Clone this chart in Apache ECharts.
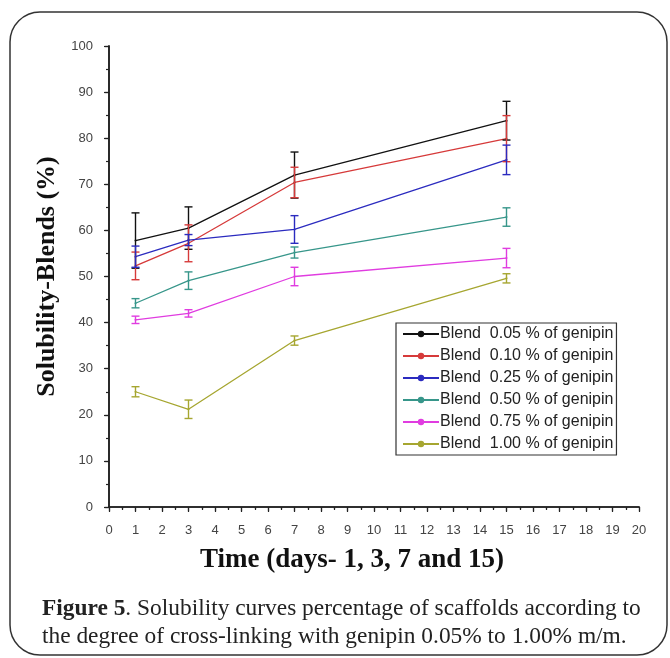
<!DOCTYPE html>
<html>
<head>
<meta charset="utf-8">
<script src="https://cdn.jsdelivr.net/npm/echarts@6/dist/echarts.min.js"></script>
<style>
  html, body { margin: 0; padding: 0; background: #fff; }
  #chart { width: 670px; height: 658px; }
</style>
</head>
<body>
<div id="chart"></div>
<script>
document.addEventListener("DOMContentLoaded", function () {
    let chart = echarts.init(document.getElementById("chart"));

    // time points (days)
    let days = [1, 3, 7, 15];

    let names = [
        "Blend  0.05 % of genipin",
        "Blend  0.10 % of genipin",
        "Blend  0.25 % of genipin",
        "Blend  0.50 % of genipin",
        "Blend  0.75 % of genipin",
        "Blend  1.00 % of genipin"
    ];
    let colors = ["#111111", "#d63a3a", "#2b2bbf", "#37968a", "#e03ce0", "#a6a630"];

    // solubility (%) per blend
    let blend005 = [57.8, 60.5, 72.0, 83.8];
    let blend010 = [52.3, 57.2, 70.4, 79.9];
    let blend025 = [54.3, 57.9, 60.2, 75.3];
    let blend050 = [44.2, 49.1, 55.2, 62.9];
    let blend075 = [40.6, 42.0, 50.0, 54.0];
    let blend100 = [25.0, 21.2, 36.1, 49.6];

    // standard deviations (error bars)
    let err005 = [6.0, 4.6, 5.0, 4.2];
    let err010 = [3.0, 4.0, 3.3, 5.0];
    let err025 = [2.3, 1.2, 3.0, 3.2];
    let err050 = [1.0, 1.9, 1.2, 2.0];
    let err075 = [0.8, 0.8, 2.0, 2.1];
    let err100 = [1.1, 2.0, 1.0, 1.0];

    let values = [blend005, blend010, blend025, blend050, blend075, blend100];
    let errors = [err005, err010, err025, err050, err075, err100];

    let xTicks = [0, 20, 1];
    let yTicks = [0, 100, 10];

    let series = [];
    values.forEach(function (vals, i) {
        series.push({
            name: names[i],
            type: "line",
            data: days.map((d, k) => [d, vals[k]]),
            symbol: "circle",
            symbolSize: 2,
            lineStyle: { color: colors[i], width: 1.3 },
            itemStyle: { color: colors[i] },
            z: 3
        });
    });
    values.forEach(function (vals, i) {
        series.push({
            name: "err" + i,
            type: "custom",
            data: days.map((d, k) => [d, vals[k], errors[i][k]]),
            encode: { x: 0, y: 1 },
            z: 4,
            renderItem: function (params, api) {
                let x = api.value(0), y = api.value(1), e = api.value(2);
                let hi = api.coord([x, y + e]);
                let lo = api.coord([x, y - e]);
                let w = 4;
                let st = { stroke: colors[i], lineWidth: 1.4 };
                return {
                    type: "group",
                    children: [
                        { type: "line", shape: { x1: hi[0], y1: hi[1], x2: lo[0], y2: lo[1] }, style: st },
                        { type: "line", shape: { x1: hi[0] - w, y1: hi[1], x2: hi[0] + w, y2: hi[1] }, style: st },
                        { type: "line", shape: { x1: lo[0] - w, y1: lo[1], x2: lo[0] + w, y2: lo[1] }, style: st }
                    ]
                };
            }
        });
    });

    let axisLine = { show: true, lineStyle: { color: "#222", width: 1.6 } };
    let tickStyle = { color: "#222", width: 1.2 };

    let option = {
        animation: false,
        backgroundColor: "#fff",
        grid: { left: 109, top: 46, width: 530, height: 461 },
        legend: {
            data: names,
            orient: "vertical",
            left: 396,
            top: 323,
            itemWidth: 36,
            itemHeight: 8,
            itemGap: 6,
            padding: [3, 3, 3, 6],
            borderColor: "#333",
            borderWidth: 1.2,
            backgroundColor: "#fff",
            textStyle: { fontFamily: "Liberation Sans", fontSize: 16, color: "#222", padding: [0, 0, 0, -4] }
        },
        xAxis: [
            {
                type: "value", min: xTicks[0], max: xTicks[1], interval: xTicks[2],
                position: "bottom",
                axisLine: axisLine,
                axisTick: { inside: false, length: 5, lineStyle: tickStyle },
                minorTick: { show: true, splitNumber: 2, length: 3, lineStyle: tickStyle },
                axisLabel: { margin: 17, color: "#444", fontFamily: "Liberation Sans", fontSize: 13 },
                splitLine: { show: false }
            },
            {
                type: "value", min: xTicks[0], max: xTicks[1], interval: xTicks[2],
                position: "top",
                axisLine: axisLine,
                axisTick: { inside: true, length: 4, lineStyle: tickStyle },
                minorTick: { show: true, splitNumber: 2, length: 2, lineStyle: tickStyle },
                axisLabel: { show: false },
                splitLine: { show: false }
            }
        ],
        yAxis: [
            {
                type: "value", min: yTicks[0], max: yTicks[1], interval: yTicks[2],
                position: "left",
                axisLine: axisLine,
                axisTick: { inside: false, length: 5, lineStyle: tickStyle },
                minorTick: { show: true, splitNumber: 2, length: 3, lineStyle: tickStyle },
                axisLabel: { margin: 16, color: "#444", fontFamily: "Liberation Sans", fontSize: 13 },
                splitLine: { show: false },
                name: "Solubility-Blends (%)",
                nameLocation: "middle",
                nameRotate: 90,
                nameGap: 49,
                nameTextStyle: { fontFamily: "Liberation Serif", fontWeight: "bold", fontSize: 26, color: "#111" }
            },
            {
                type: "value", min: yTicks[0], max: yTicks[1], interval: yTicks[2],
                position: "right",
                axisLine: axisLine,
                axisTick: { inside: true, length: 4, lineStyle: tickStyle },
                minorTick: { show: true, splitNumber: 2, length: 2, lineStyle: tickStyle },
                axisLabel: { show: false },
                splitLine: { show: false }
            }
        ],
        graphic: [
            {
                type: "rect",
                shape: { x: 10, y: 12, width: 657, height: 643, r: 30 },
                style: { fill: null, stroke: "#333", lineWidth: 1.5 },
                silent: true
            },
            {
                type: "text",
                x: 352, y: 560,
                style: {
                    text: "Time (days- 1, 3, 7 and 15)",
                    font: "bold 27px 'Liberation Serif'",
                    fill: "#111",
                    align: "center",
                    verticalAlign: "middle"
                }
            },
            {
                type: "text",
                x: 42, y: 609,
                style: {
                    text: "{b|Figure 5}. Solubility curves percentage of scaffolds according to",
                    font: "23.4px 'Liberation Serif'",
                    fill: "#222",
                    verticalAlign: "middle",
                    rich: { b: { font: "bold 23.4px 'Liberation Serif'", fill: "#222" } }
                }
            },
            {
                type: "text",
                x: 42, y: 637,
                style: {
                    text: "the degree of cross-linking with genipin 0.05% to 1.00% m/m.",
                    font: "23.4px 'Liberation Serif'",
                    fill: "#222",
                    verticalAlign: "middle"
                }
            }
        ],
        series: series
    };
    chart.setOption(option);
});
</script>
</body>
</html>
